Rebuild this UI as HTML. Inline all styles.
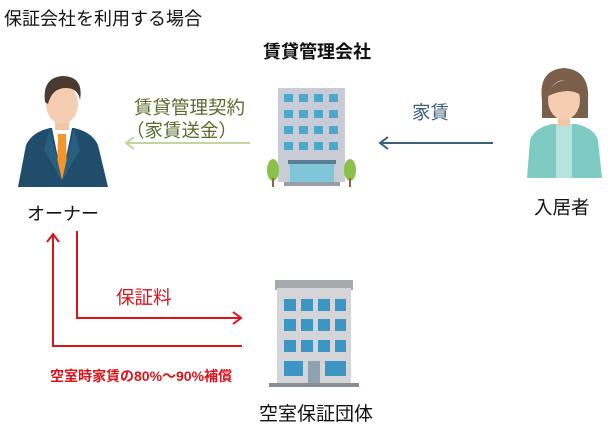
<!DOCTYPE html>
<html><head><meta charset="utf-8"><style>
html,body{margin:0;padding:0;background:#fff;}
svg{display:block;}
text{font-family:"Liberation Sans","Noto Sans CJK JP",sans-serif;}
</style></head><body>
<svg width="614" height="433" viewBox="0 0 614 433" xmlns="http://www.w3.org/2000/svg">
<text x="4" y="25" font-size="18" fill="#111">保証会社を利用する場合</text>
<text x="317" y="58" font-size="18" fill="#111" text-anchor="middle" font-weight="bold">賃貸管理会社</text>

<!-- owner -->
<g>
<path d="M18 187 L26 145 Q32 132 50 128 L74 128 Q92 132 98 145 L108 187 Z" fill="#1f4d6b"/>
<path d="M52 128 L62 178 L72 128 Z" fill="#fff"/>
<path d="M58 134 L66 134 L67 172 L62 180 L57 172 Z" fill="#f0962a"/>
<path d="M50 128 L62 180 L44 150 Z" fill="#2a5e80"/>
<path d="M74 128 L62 180 L80 150 Z" fill="#2a5e80"/>
<rect x="55" y="118" width="14" height="12" fill="#f2c6a4"/>
<ellipse cx="62" cy="104" rx="16" ry="20" fill="#f5cdb0"/>
<path d="M45 102 Q42 78 62 76 Q84 76 80 100 Q78 88 66 88 Q52 88 48 104 Z" fill="#4a3a32"/>
</g>
<text x="27" y="220" font-size="18" fill="#111">オーナー</text>

<!-- green -->
<text x="134" y="114" font-size="18.5" fill="#5d6a2e">賃貸管理契約</text>
<text x="126" y="137" font-size="18.5" fill="#5d6a2e">（家賃送金）</text>
<line x1="250" y1="143" x2="126" y2="143" stroke="#c4d3a0" stroke-width="2"/>
<polyline points="134,137 126,143 134,149" fill="none" stroke="#c4d3a0" stroke-width="2"/>

<!-- building 1 -->
<rect x="278" y="88" width="67" height="94" fill="#c9ccd4"/>
<g fill="#4aa9cf">
<rect x="284" y="94" width="9" height="8"/><rect x="299" y="94" width="9" height="8"/><rect x="314" y="94" width="9" height="8"/><rect x="329" y="94" width="9" height="8"/>
<rect x="284" y="110" width="9" height="8"/><rect x="299" y="110" width="9" height="8"/><rect x="314" y="110" width="9" height="8"/><rect x="329" y="110" width="9" height="8"/>
<rect x="284" y="126" width="9" height="8"/><rect x="299" y="126" width="9" height="8"/><rect x="314" y="126" width="9" height="8"/><rect x="329" y="126" width="9" height="8"/>
<rect x="284" y="142" width="9" height="8"/><rect x="299" y="142" width="9" height="8"/><rect x="314" y="142" width="9" height="8"/><rect x="329" y="142" width="9" height="8"/>
</g>
<rect x="290" y="163" width="44" height="19" fill="#7fc6d9"/>
<rect x="288" y="160" width="48" height="4" fill="#5b7e97"/>
<rect x="284" y="182" width="56" height="4" fill="#9a9ea6"/>
<ellipse cx="273" cy="170" rx="6" ry="11" fill="#8cc04a"/><rect x="272" y="178" width="2" height="9" fill="#8a6a3a"/>
<ellipse cx="350" cy="170" rx="6" ry="11" fill="#8cc04a"/><rect x="349" y="178" width="2" height="9" fill="#8a6a3a"/>

<!-- blue -->
<text x="412" y="119" font-size="18.5" fill="#3c5f80">家賃</text>
<line x1="493" y1="143" x2="380" y2="143" stroke="#3c5f80" stroke-width="2"/>
<polyline points="388,137 380,143 388,149" fill="none" stroke="#3c5f80" stroke-width="2"/>

<!-- resident -->
<g>
<path d="M527 178 L530 140 Q534 128 552 124 L576 124 Q594 128 598 140 L602 178 Z" fill="#7ecbc4"/>
<rect x="556" y="124" width="16" height="54" fill="#b6e3de"/>
<path d="M542 100 Q538 70 564 68 Q590 70 588 100 L588 118 L542 118 Z" fill="#7a5f4c"/>
<rect x="558" y="112" width="12" height="14" fill="#f2c6a4"/>
<ellipse cx="564" cy="100" rx="16" ry="20" fill="#f5cdb0"/>
<path d="M548 96 Q552 78 574 80 Q584 84 582 96 Q570 86 548 96 Z" fill="#7a5f4c"/>
</g>
<text x="534" y="214" font-size="18.5" fill="#111">入居者</text>

<!-- red -->
<polyline points="77,231 77,318 240,318" fill="none" stroke="#d9151b" stroke-width="2"/>
<polyline points="233,312 241,318 233,324" fill="none" stroke="#d9151b" stroke-width="2"/>
<polyline points="242,346 53,346 53,234" fill="none" stroke="#d9151b" stroke-width="2"/>
<polyline points="47,242 53,234 59,242" fill="none" stroke="#d9151b" stroke-width="2"/>
<text x="116" y="304" font-size="18.5" fill="#d9151b">保証料</text>
<text x="50" y="381" font-size="14" fill="#d9151b" font-weight="bold">空室時家賃の80%～90%補償</text>

<!-- building 2 -->
<rect x="275" y="280" width="78" height="10" fill="#a7a9ac"/>
<rect x="277" y="288" width="74" height="95" fill="#d3d5d8"/>
<g fill="#3d95c4">
<rect x="284" y="299" width="12" height="12"/><rect x="301" y="299" width="12" height="12"/><rect x="318" y="299" width="12" height="12"/><rect x="335" y="299" width="11" height="12"/>
<rect x="284" y="319" width="12" height="12"/><rect x="301" y="319" width="12" height="12"/><rect x="318" y="319" width="12" height="12"/><rect x="335" y="319" width="11" height="12"/>
<rect x="284" y="340" width="12" height="12"/><rect x="301" y="340" width="12" height="12"/><rect x="318" y="340" width="12" height="12"/><rect x="335" y="340" width="11" height="12"/>
<rect x="284" y="361" width="19" height="15"/><rect x="325" y="361" width="21" height="15"/>
</g>
<rect x="308" y="361" width="12" height="22" fill="#8da3b2"/>
<rect x="269" y="383" width="90" height="4" fill="#8a8d91"/>
<text x="259" y="420" font-size="19" fill="#111">空室保証団体</text>
</svg>
</body></html>
